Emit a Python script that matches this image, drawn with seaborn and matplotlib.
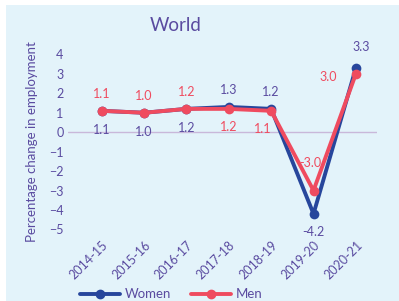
import matplotlib
matplotlib.use("Agg")
import matplotlib.pyplot as plt
import matplotlib.patches as mpatches
import pandas as pd
import seaborn as sns

# Data
years = ['2014-15', '2015-16', '2016-17', '2017-18', '2018-19', '2019-20', '2020-21']
women = [1.1, 1.0, 1.2, 1.3, 1.2, -4.2, 3.3]
men = [1.1, 1.0, 1.2, 1.2, 1.1, -3.0, 3.0]

women_c = '#27469C'
men_c = '#EF4B5F'
text_c = '#5A4BA0'
bg = '#E3F3FA'

df = pd.DataFrame({'year': years * 2,
                   'value': women + men,
                   'sex': ['Women'] * len(years) + ['Men'] * len(years)})
df['pos'] = list(range(len(years))) * 2

sns.set_style('white')
plt.rcParams['font.family'] = ['Lato', 'DejaVu Sans']

fig = plt.figure(figsize=(3.99, 3.01), dpi=100)
fig.patches.append(mpatches.Rectangle((6 / 399, 0), 1, 1 - 5 / 301,
                                      transform=fig.transFigure,
                                      facecolor=bg, edgecolor='none', zorder=-10))
ax = fig.add_axes([0.170, 0.225, 0.775, 0.607])
ax.set_facecolor('none')

sns.lineplot(data=df, x='pos', y='value', hue='sex', ax=ax,
             palette={'Women': women_c, 'Men': men_c},
             hue_order=['Women', 'Men'], marker='o', markersize=7,
             markeredgewidth=0, linewidth=2.8, legend=False)

ax.axhline(0, color='#C9B8DA', linewidth=1, zorder=0)
ax.set_xlim(-0.8, 6.5)
ax.set_ylim(-5.2, 4.2)
ax.set_yticks(range(-5, 5))
ax.set_xticks(range(len(years)))
ax.set_xticklabels(years, rotation=45, ha='right', rotation_mode='anchor')
ax.tick_params(colors=text_c, labelsize=9, length=0, pad=3)
ax.tick_params(axis='x', pad=4)
for s in ax.spines.values():
    s.set_visible(False)
ax.set_xlabel('')
ax.set_ylabel('Percentage change in employment', color=text_c, fontsize=9.5, labelpad=8)
ax.set_title('World', color=text_c, fontsize=13.5, pad=14, x=0.35)

# data labels (offsets in points)
w_off = [(0, -14), (0, -14), (0, -14), (0, 12), (0, 12), (0, -13), (4, 15)]
m_off = [(0, 12), (0, 12), (0, 12), (0, -13), (-6, -13), (-2, 20), (-20, -2)]
for i in range(len(years)):
    ax.annotate(f'{women[i]:.1f}', (i, women[i]), xytext=w_off[i],
                textcoords='offset points', ha='center', va='center',
                color=text_c, fontsize=9)
    ax.annotate(f'{men[i]:.1f}', (i, men[i]), xytext=m_off[i],
                textcoords='offset points', ha='center', va='center',
                color=men_c, fontsize=9)

handles = [plt.Line2D([], [], color=women_c, marker='o', markersize=6, lw=2.8),
           plt.Line2D([], [], color=men_c, marker='o', markersize=6, lw=2.8)]
fig.legend(handles, ['Women', 'Men'], loc='center', bbox_to_anchor=(0.43, 0.022),
           ncol=2, frameon=False, fontsize=9.5, labelcolor=text_c,
           handlelength=3, columnspacing=1.5, handletextpad=0.4)

fig.savefig('out.png', dpi=100)
